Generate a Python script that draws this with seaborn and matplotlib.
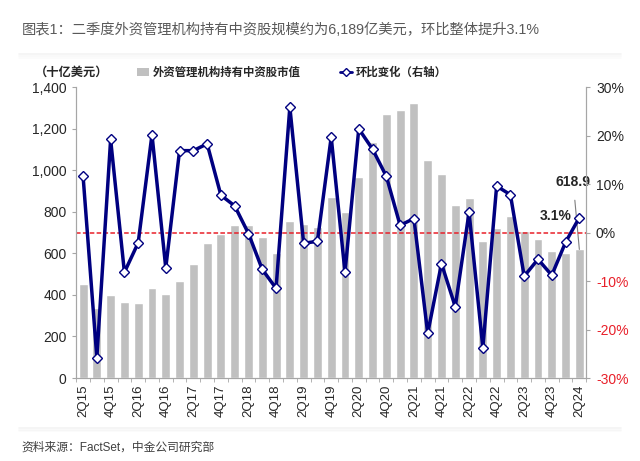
import numpy as np
import pandas as pd
import matplotlib.pyplot as plt
import seaborn as sns
from matplotlib.lines import Line2D
from matplotlib.patches import Patch

# -------------------------------
# Data
# -------------------------------
quarters = ["2Q15", "3Q15", "4Q15", "1Q16", "2Q16", "3Q16", "4Q16", "1Q17",
            "2Q17", "3Q17", "4Q17", "1Q18", "2Q18", "3Q18", "4Q18", "1Q19",
            "2Q19", "3Q19", "4Q19", "1Q20", "2Q20", "3Q20", "4Q20", "1Q21",
            "2Q21", "3Q21", "4Q21", "1Q22", "2Q22", "3Q22", "4Q22", "1Q23",
            "2Q23", "3Q23", "4Q23", "1Q24", "2Q24"]

holdings = [452, 335, 399, 368, 362, 431, 402, 469, 550, 649, 694, 738,
            735, 680, 603, 757, 741, 728, 871, 799, 969, 1138, 1273, 1291,
            1326, 1050, 980, 831, 868, 659, 723, 781, 709, 670, 612, 600, 618.9]

qoq_pct = [11.7, -25.8, 19.2, -8.2, -2.1, 20.2, -7.3, 16.9, 16.9, 18.3, 7.7, 5.5,
           -0.2, -7.6, -11.5, 25.9, -2.2, -1.8, 19.7, -8.2, 21.4, 17.2, 11.6, 1.5,
           2.9, -20.8, -6.4, -15.3, 4.2, -23.8, 9.6, 7.8, -9.0, -5.5, -8.8, -2.0, 3.1]

left_ticks = [0, 200, 400, 600, 800, 1000, 1200, 1400]
right_ticks = [-30, -20, -10, 0, 10, 20, 30]

bar_label = "外资管理机构持有中资股市值"
line_label = "环比变化（右轴）"
title = "图表1：二季度外资管理机构持有中资股规模约为6,189亿美元，环比整体提升3.1%"
source = "资料来源：FactSet，中金公司研究部"

df = pd.DataFrame({"quarter": quarters, "holdings": holdings, "qoq": qoq_pct})

# -------------------------------
# Style
# -------------------------------
sns.set_style("white")
plt.rcParams["font.family"] = ["Liberation Sans", "Noto Sans CJK SC", "DejaVu Sans"]

BAR_COLOR = "#c0c0c0"
LINE_COLOR = "#000080"
AXIS_COLOR = "#a6a6a6"
RED = "#e8202a"

fig = plt.figure(figsize=(6.4, 4.61), dpi=100)
ax = fig.add_axes([0.119, 0.180, 0.797, 0.631])

# bars
sns.barplot(data=df, x="quarter", y="holdings", color=BAR_COLOR, width=0.65,
            saturation=1, ax=ax, zorder=1)

# line on right axis
ax2 = ax.twinx()
sns.pointplot(data=df, x="quarter", y="qoq", ax=ax2, color=LINE_COLOR,
              markers="D", markersize=5, linewidth=2.5,
              markerfacecolor="white", markeredgecolor=LINE_COLOR,
              markeredgewidth=1.0, zorder=3)
ax2.axhline(0, color=RED, lw=1.1, ls=(0, (3, 1.5)), zorder=2)
ax2.xaxis.set_visible(False)

# axes limits & ticks
ax.set_xlim(-0.45, len(quarters) - 0.5)
ax.set_ylim(0, 1400)
ax2.set_ylim(-30, 30)

ax.set_yticks(left_ticks)
ax.set_yticklabels([f"{v:,}" for v in left_ticks], fontsize=10, color="#262626")
ax2.set_yticks(right_ticks)
ax2.set_yticklabels([f"{v}%" for v in right_ticks], fontsize=10)
for lab, v in zip(ax2.get_yticklabels(), right_ticks):
    lab.set_color(RED if v < 0 else "#262626")

ax.set_xticks(range(0, len(quarters), 2))
ax.set_xticklabels(quarters[::2], rotation=90, fontsize=9.5, color="#262626")
ax.set_xticks(np.arange(-0.5, len(quarters), 1), minor=True)

ax.set_xlabel("")
ax.set_ylabel("")
ax2.set_ylabel("")

ax.tick_params(axis="y", which="major", length=3, color=AXIS_COLOR, pad=4, left=True)
ax.tick_params(axis="x", which="major", length=0, pad=5, bottom=True, labelbottom=True)
ax.tick_params(axis="x", which="minor", length=3, color=AXIS_COLOR, bottom=True)
ax2.tick_params(axis="y", length=3, color=AXIS_COLOR, pad=4, right=True)

for a in (ax, ax2):
    a.spines["top"].set_visible(False)
    for s in ("left", "right", "bottom"):
        a.spines[s].set_color(AXIS_COLOR)
        a.spines[s].set_linewidth(0.8)

# annotations
ax.annotate(f"{holdings[-1]}", xy=(len(quarters) - 1, holdings[-1]),
            xytext=(len(quarters) - 1.45, 945), ha="center", va="center",
            fontsize=10, fontweight="bold", color="#262626",
            arrowprops=dict(arrowstyle="-", color="#7f7f7f", lw=0.8,
                            shrinkA=6, shrinkB=0))
ax2.text(len(quarters) - 2.75, 3.4, f"{qoq_pct[-1]}%", ha="center", va="center",
         fontsize=10, fontweight="bold", color="#262626", zorder=5)

# legend and unit label
handles = [Patch(facecolor=BAR_COLOR, edgecolor="none"),
           Line2D([0], [0], color=LINE_COLOR, lw=2, marker="D", markersize=4,
                  markerfacecolor="white", markeredgecolor=LINE_COLOR)]
fig.legend(handles, [bar_label, line_label], loc="center left", ncol=2,
           bbox_to_anchor=(0.198, 0.843), frameon=False,
           handlelength=1.1, handletextpad=0.3, columnspacing=3.4,
           prop={"weight": "bold", "size": 8.2})
fig.text(0.112, 0.843, "（十亿美元）", ha="center", va="center",
         fontsize=8.8, fontweight="bold", color="#262626")

# title, source and separators
fig.text(0.034, 0.935, title, ha="left", va="center", fontsize=10.3, color="#595959")
fig.text(0.034, 0.03, source, ha="left", va="center", fontsize=8.5, color="#404040")
for y in (0.882, 0.072):
    for k, a in enumerate([0.10, 0.06, 0.03]):
        fig.add_artist(Line2D([0.03, 0.97], [y - k * 0.004, y - k * 0.004],
                              color="#909090", lw=1.2, alpha=a))

fig.savefig("out.png", dpi=100)
